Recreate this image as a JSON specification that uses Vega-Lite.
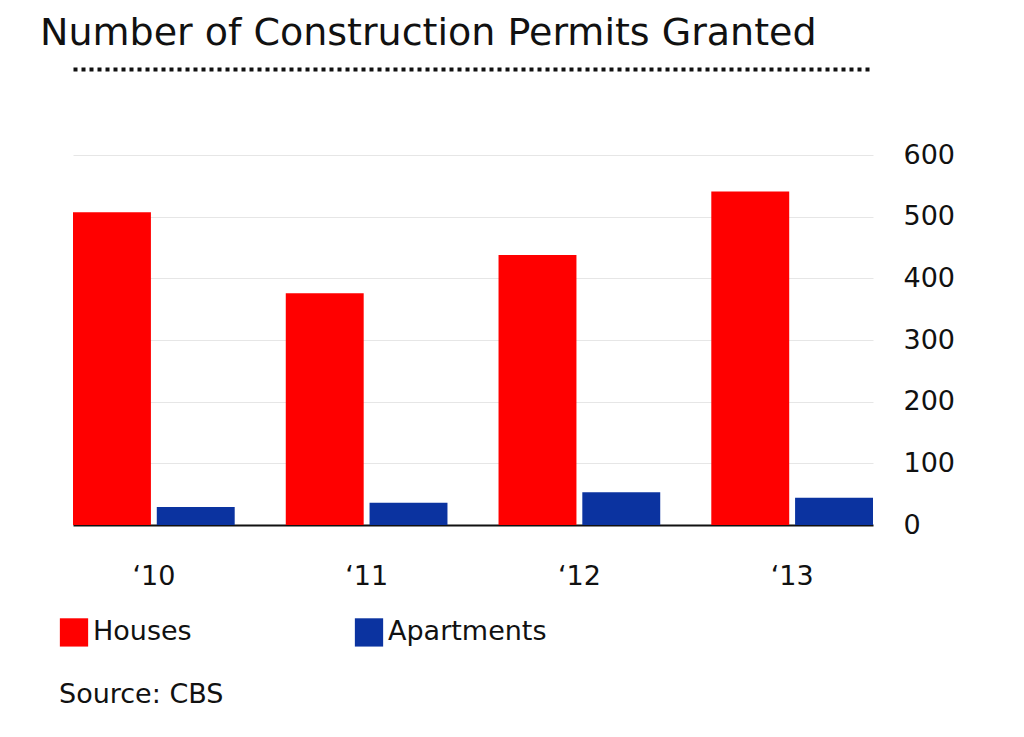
{
"$schema":"https://vega.github.io/schema/vega-lite/v6.json",
"autosize":"none",
"width":800,"height":370,
"padding":{"left":73,"top":155,"right":151,"bottom":212},
"config":{"font":"DejaVu Sans","view":{"stroke":null}},
"title":{"text":"Number of Construction Permits Granted","anchor":"start","frame":"group","dx":-33,"fontSize":38,"fontWeight":"normal","color":"#111","offset":16},
"data":{"values":[
{"year":"‘10","type":"Houses","v":507},{"year":"‘10","type":"Apartments","v":29},
{"year":"‘11","type":"Houses","v":376},{"year":"‘11","type":"Apartments","v":36},
{"year":"‘12","type":"Houses","v":438},{"year":"‘12","type":"Apartments","v":53},
{"year":"‘13","type":"Houses","v":541},{"year":"‘13","type":"Apartments","v":44}
]},
"resolve":{"axis":{"x":"independent"}},
"layer":[
{"mark":"bar",
"encoding":{
"x":{"field":"year","type":"nominal","sort":null,"scale":{"paddingInner":0.24,"paddingOuter":0},"axis":{"title":null,"labelAngle":0,"labelFontSize":27,"labelColor":"#111","labelPadding":38,"ticks":false,"domainColor":"#111","domainWidth":2}},
"xOffset":{"field":"type","type":"nominal","scale":{"domain":["Houses","Apartments"],"paddingInner":0.07}},
"y":{"field":"v","type":"quantitative","scale":{"domain":[0,600]},"axis":{"title":null,"orient":"right","values":[0,50,100,150,200,250,300,350,400,450,500,550,600],"labelExpr":"datum.value % 100 == 0 ? datum.label : ''","labelFontSize":27,"labelColor":"#111","labelPadding":30,"ticks":false,"domain":false,"gridColor":"#e6e6e6"}},
"color":{"field":"type","type":"nominal","scale":{"domain":["Houses","Apartments"],"range":["#ff0000","#0b33a0"]},
"legend":{"title":"Source: CBS","titleOrient":"bottom","titleAnchor":"start","titleFontSize":27,"titleFontWeight":"normal","titleColor":"#111","titlePadding":35,"orient":"none","legendX":-14,"legendY":462,"direction":"horizontal","symbolType":"square","symbolSize":800,"symbolOpacity":1,"labelFontSize":27,"labelColor":"#111","columnPadding":162,"labelOffset":4}}
}},
{"mark":{"type":"bar","opacity":0},
"encoding":{
"x":{"field":"year","type":"nominal","sort":null,"axis":{"orient":"top","offset":86,"title":null,"labels":false,"ticks":false,"grid":false,"domainDash":[4,4],"domainWidth":4,"domainColor":"#111"}},
"xOffset":{"field":"type","type":"nominal","scale":{"domain":["Houses","Apartments"]}},
"y":{"field":"v","type":"quantitative"}
}}
]
}
